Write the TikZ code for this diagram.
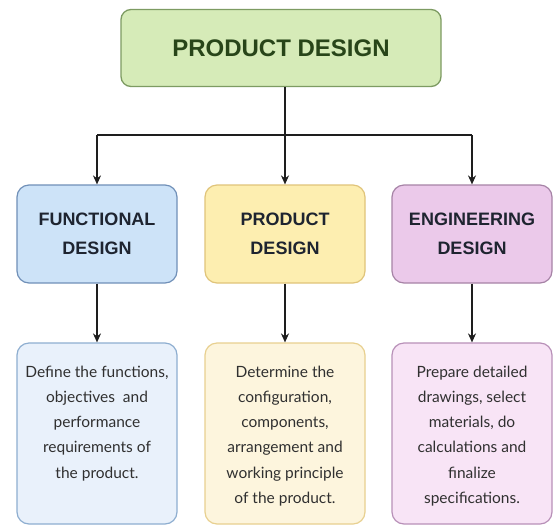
\documentclass[tikz,border=0pt]{standalone}
\usepackage{fontspec}
\setmainfont{Liberation Sans}
\newfontfamily\bodyfont{Lato}
\usetikzlibrary{arrows.meta}
\definecolor{topfill}{HTML}{D6EBB8}
\definecolor{topdraw}{HTML}{7D9B62}
\definecolor{toptext}{HTML}{284519}
\definecolor{bluefill}{HTML}{CDE3F8}
\definecolor{bluedraw}{HTML}{7090B8}
\definecolor{yelfill}{HTML}{FDEEB0}
\definecolor{yeldraw}{HTML}{E0C47A}
\definecolor{pinkfill}{HTML}{EBC9EA}
\definecolor{pinkdraw}{HTML}{A683A6}
\definecolor{bluelight}{HTML}{E9F1FB}
\definecolor{bluelightdraw}{HTML}{8EAED0}
\definecolor{yellight}{HTML}{FDF5DD}
\definecolor{yellightdraw}{HTML}{E8D090}
\definecolor{pinklight}{HTML}{F8E4F6}
\definecolor{pinklightdraw}{HTML}{B890B8}
\definecolor{headtext}{HTML}{1E2430}
\definecolor{bodytext}{HTML}{303030}
\definecolor{linecol}{HTML}{1E1E1E}
\tikzset{
  x=1pt, y=-1pt,
  topbox/.style={draw=topdraw, fill=topfill, line width=1.3pt, rounded corners=10pt,
    minimum width=320pt, minimum height=77pt, inner sep=0pt,
    font=\fontsize{24}{28}\selectfont\bfseries, text=toptext},
  midbox/.style={line width=1.2pt, rounded corners=12pt,
    minimum width=160pt, minimum height=98pt, inner sep=0pt, align=center,
    font=\fontsize{18}{29}\selectfont\bfseries, text=headtext},
  lowbox/.style={line width=1.2pt, rounded corners=12pt,
    minimum width=160pt, minimum height=181pt, inner sep=0pt},
  bodytxt/.style={anchor=north, align=center, inner sep=0pt, text=bodytext,
    font=\bodyfont\fontsize{15.5}{25.3}\selectfont},
  conn/.style={draw=linecol, line width=1.4pt},
  arr/.style={conn, -{Stealth[length=9pt,width=8pt]}}
}
\begin{document}
\begin{tikzpicture}
\useasboundingbox (0,0) rectangle (556,528);
\fill[white] (0,0) rectangle (556,528);

\node[topbox] (top) at (281,48) {PRODUCT DESIGN};

\node[midbox, draw=bluedraw, fill=bluefill] (f) at (97,234) {FUNCTIONAL\\DESIGN};
\node[midbox, draw=yeldraw, fill=yelfill] (p) at (285,234) {PRODUCT\\DESIGN};
\node[midbox, draw=pinkdraw, fill=pinkfill] (e) at (472,234) {ENGINEERING\\DESIGN};

\node[lowbox, draw=bluelightdraw, fill=bluelight] (fl) at (97,433.5) {};
\node[lowbox, draw=yellightdraw, fill=yellight] (pl) at (285,433.5) {};
\node[lowbox, draw=pinklightdraw, fill=pinklight] (el) at (472,433.5) {};

\node[bodytxt] (flt) at ([yshift=-23pt]fl.north) {Define the functions,\\objectives\ \ and\\performance\\requirements of\\the product.};
\node[bodytxt] (plt) at ([yshift=-23pt]pl.north) {Determine the\\configuration,\\components,\\arrangement and\\working principle\\of the product.};
\node[bodytxt] (elt) at ([yshift=-23pt]el.north) {Prepare detailed\\drawings, select\\materials, do\\calculations and\\finalize\\specifications.};

\coordinate (bj) at (285,135);
\coordinate (bl) at (97,135);
\coordinate (br) at (472,135);
\draw[conn] (top.south -| bj) -- (bj);
\draw[conn] (bl) -- (br);
\draw[arr] (bl) -- (f.north);
\draw[arr] (bj) -- (p.north);
\draw[arr] (br) -- (e.north);

\draw[arr] (f.south) -- (fl.north);
\draw[arr] (p.south) -- (pl.north);
\draw[arr] (e.south) -- (el.north);
\end{tikzpicture}
\end{document}
